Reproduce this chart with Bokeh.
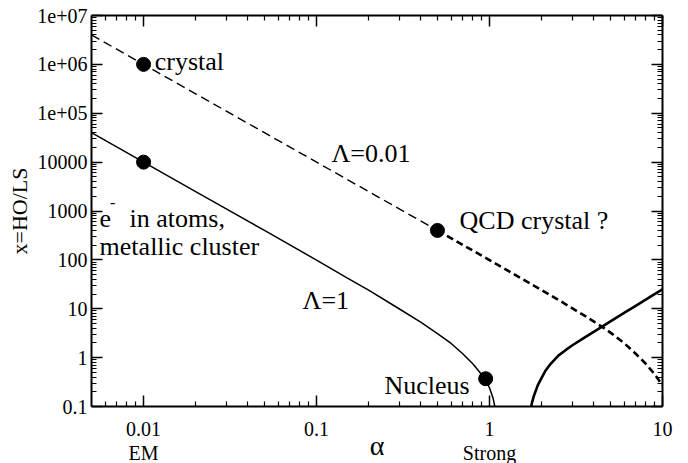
from bokeh.plotting import figure
from bokeh.models import LogAxis, FixedTicker, CustomJSTickFormatter, Range1d
from bokeh.core.properties import value
from bokeh.embed import file_html
from bokeh.resources import INLINE

# ---------------- data ----------------
x_ticks = [0.01, 0.1, 1, 10]
x_tick_labels = ["0.01\nEM", "0.1", "1\nStrong", "10"]
x_minor = [0.006, 0.007, 0.008, 0.009,
           0.02, 0.03, 0.04, 0.05, 0.06, 0.07, 0.08, 0.09,
           0.2, 0.3, 0.4, 0.5, 0.6, 0.7, 0.8, 0.9,
           2, 3, 4, 5, 6, 7, 8, 9]
y_ticks = [0.1, 1, 10, 100, 1000, 10000, 1e5, 1e6, 1e7]
y_tick_labels = ["0.1", "1", "10", "100", "1000", "10000", "1e+05", "1e+06", "1e+07"]
y_minor = [m * 10.0 ** e for e in range(-1, 7) for m in (2, 3, 4, 5, 6, 7, 8, 9)]

# Lambda = 1 (solid)
lam1_alpha = [0.005, 0.01, 0.02, 0.05, 0.1, 0.15, 0.2, 0.3, 0.4, 0.5, 0.6,
              0.7, 0.8, 0.9, 0.95, 1.0, 1.05, 1.1]
lam1_x = [40000, 10000, 2500, 400, 99, 43, 24, 10, 5.3, 3.1, 1.95,
          1.2, 0.75, 0.45, 0.35, 0.24, 0.145, 0.065]

# Lambda = 0.01 (dashed)
lam001_alpha = [0.005, 0.01, 0.02, 0.05, 0.1, 0.2, 0.5, 1, 2, 2.5, 3, 3.5,
                4, 4.5, 5, 6, 7, 8, 9, 10]
lam001_x = [4.0e6, 1.0e6, 2.5e5, 4.0e4, 1.0e4, 2500, 400, 99, 24.2, 15.2, 10.3, 7.4,
            5.5, 4.2, 3.25, 1.98, 1.2, 0.75, 0.46, 0.27]

# rising branch (solid, thick)
rise_alpha = [1.7, 1.72, 1.76, 1.8, 1.9, 2.0, 2.1, 2.25, 2.5, 2.75, 3, 3.5, 4,
              4.5, 5, 6, 7, 8, 9, 10]
rise_x = [0.05, 0.079, 0.12, 0.16, 0.27, 0.385, 0.53, 0.74, 1.1, 1.42, 1.77, 2.5,
          3.36, 4.35, 5.5, 8.2, 11.5, 15.4, 20.0, 25.0]

# marked systems
pt_names = ["crystal", "e- in atoms", "QCD crystal", "Nucleus"]
pt_alpha = [0.01, 0.01, 0.5, 0.95]
pt_x = [1e6, 1e4, 400, 0.37]

# annotation texts
ann_text = ["crystal", "Λ=0.01", "QCD crystal ?", "e", "in atoms,",
            "metallic cluster", "Λ=1", "Nucleus"]
ann_alpha = [0.0116, 0.122, 0.671, 0.00557, 0.0083, 0.00557, 0.083, 0.247]
ann_x = [10 ** 6.05, 10 ** 4.17, 10 ** 2.80, 10 ** 2.84, 10 ** 2.84,
         10 ** 2.27, 10 ** 1.16, 10 ** -0.575]
sup_text = ["-"]
sup_alpha = [0.0064]
sup_x = [10 ** 3.17]

# ---------------- figure ----------------
FONT = "Liberation Serif"

p = figure(width=688, height=463, x_axis_type="log", y_axis_type="log",
           x_range=Range1d(0.005, 10), y_range=Range1d(0.1, 1e7),
           output_backend="svg", toolbar_location=None,
           min_border_left=91, min_border_right=26,
           min_border_top=15, min_border_bottom=49)
p.grid.visible = False
p.outline_line_color = None
p.background_fill_color = "white"
p.border_fill_color = "white"


def fmt(tvals, tlabels):
    return CustomJSTickFormatter(args=dict(tvals=tvals, tlabels=tlabels), code="""
        for (let i = 0; i < tvals.length; i++) {
            if (Math.abs(Math.log10(tvals[i]) - Math.log10(tick)) < 1e-6) return tlabels[i];
        }
        return "";
    """)


def style(ax, ticks, minor, labels, show, standoff=4):
    ax.ticker = FixedTicker(ticks=ticks, minor_ticks=minor)
    ax.axis_line_width = 2
    ax.axis_line_color = "black"
    ax.major_tick_in = 11
    ax.major_tick_out = 0
    ax.minor_tick_in = 5
    ax.minor_tick_out = 0
    ax.major_tick_line_width = 1.5
    ax.minor_tick_line_width = 1.2
    ax.major_tick_line_color = "black"
    ax.minor_tick_line_color = "black"
    if show:
        ax.formatter = fmt(ticks, labels)
        ax.major_label_text_font = FONT
        ax.major_label_text_font_size = "20px"
        ax.major_label_text_color = "black"
        ax.major_label_standoff = standoff
    else:
        ax.formatter = CustomJSTickFormatter(code='return "";')
        ax.major_label_text_font_size = "0px"
        ax.major_label_standoff = 0


xa = p.xaxis[0]
ya = p.yaxis[0]
style(xa, x_ticks, x_minor, x_tick_labels, True, standoff=11)
style(ya, y_ticks, y_minor, y_tick_labels, True, standoff=4)
xa.major_label_text_line_height = 1.1
xa.axis_label = "α"
xa.axis_label_text_font = FONT
xa.axis_label_text_font_size = "28px"
xa.axis_label_text_font_style = "normal"
xa.axis_label_text_color = "black"
xa.axis_label_standoff = -37
ya.axis_label = "x=HO/LS"
ya.axis_label_text_font = FONT
ya.axis_label_text_font_size = "22px"
ya.axis_label_text_font_style = "normal"
ya.axis_label_text_color = "black"
ya.axis_label_standoff = 2

top = LogAxis()
style(top, x_ticks, x_minor, x_tick_labels, False)
p.add_layout(top, "above")
right = LogAxis()
style(right, y_ticks, y_minor, y_tick_labels, False)
p.add_layout(right, "right")

# curves
p.line(lam1_alpha, lam1_x, line_color="black", line_width=1.5)
split = lam001_alpha.index(0.5)
p.line(lam001_alpha[:split + 1], lam001_x[:split + 1], line_color="black",
       line_width=1.4, line_dash="9 5")
p.line(lam001_alpha[split:], lam001_x[split:], line_color="black",
       line_width=2.6, line_dash="7 4")
p.line(rise_alpha, rise_x, line_color="black", line_width=2.6)

p.scatter(pt_alpha, pt_x, size=14, color="black")

p.text(x=ann_alpha, y=ann_x, text=ann_text, text_font=value(FONT),
       text_font_size=value("26px"), text_color="black",
       text_baseline="alphabetic", text_align="left")
p.text(x=sup_alpha, y=sup_x, text=sup_text, text_font=value(FONT),
       text_font_size=value("16px"), text_color="black",
       text_baseline="alphabetic", text_align="left")

open("out.html", "w").write(file_html(p, INLINE))
